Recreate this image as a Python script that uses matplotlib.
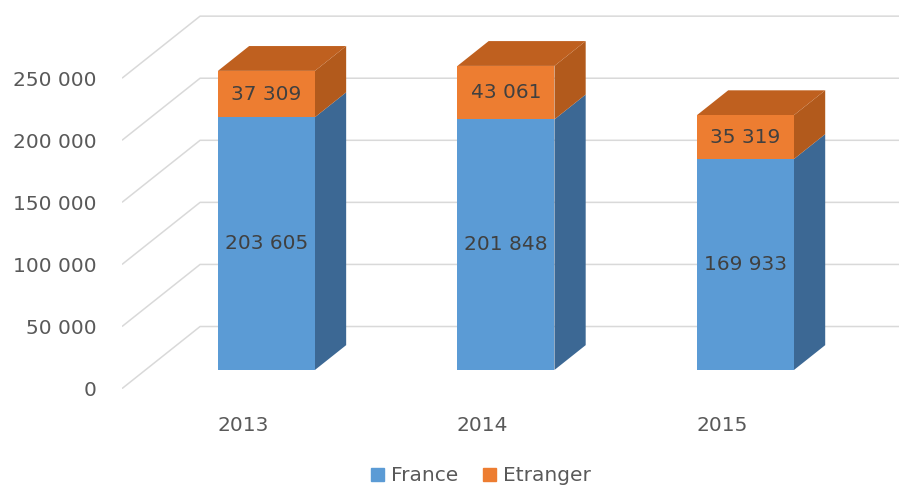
import matplotlib.pyplot as plt
from matplotlib.patches import Patch

years = ["2013", "2014", "2015"]
france = [203605, 201848, 169933]
etranger = [37309, 43061, 35319]
y_ticks = [0, 50000, 100000, 150000, 200000, 250000]

FR_FRONT, FR_SIDE = "#5B9BD5", "#3C6894"
ET_FRONT, ET_SIDE, ET_TOP = "#ED7D31", "#B25A1C", "#BF601F"
GRID = "#D9D9D9"

# fake 3D: the floor goes back by DX (category units) and DY (value units),
# bars sit between FRONT and BACK of that depth
DX, DY = 0.326, 50000
FRONT, BACK = 0.3, 0.7
BAR_W = 0.405
XMIN, XMAX = -0.603, 2.641


def fmt(v):
    return f"{v:,}".replace(",", " ")


fig = plt.figure(figsize=(8.99, 4.88), dpi=100)
ax = fig.add_axes([0.1357, 0.2037, 0.8643, 0.7963])
ax.set_xlim(XMIN, XMAX)
ax.set_ylim(-FRONT * DY, 298000)

# floor lines + back wall
for v in y_ticks:
    ax.plot([XMIN, XMIN + DX, XMAX],
            [v - FRONT * DY, v + BACK * DY, v + BACK * DY],
            color=GRID, lw=1.1, zorder=1, solid_capstyle="butt")

x = list(range(len(years)))
bdx = (BACK - FRONT) * DX
bdy = (BACK - FRONT) * DY
for i, f, e in zip(x, france, etranger):
    t = f + e
    xl, xr = i - BAR_W / 2, i + BAR_W / 2
    ax.fill([xr, xr + bdx, xr + bdx, xr], [0, bdy, f + bdy, f],
            color=FR_SIDE, lw=0, zorder=2)
    ax.fill([xr, xr + bdx, xr + bdx, xr], [f, f + bdy, t + bdy, t],
            color=ET_SIDE, lw=0, zorder=2)
    ax.fill([xl, xl + bdx, xr + bdx, xr], [t, t + bdy, t + bdy, t],
            color=ET_TOP, lw=0, zorder=2)

ax.bar(x, france, BAR_W, color=FR_FRONT, zorder=3)
ax.bar(x, etranger, BAR_W, bottom=france, color=ET_FRONT, zorder=3)

for i, f, e in zip(x, france, etranger):
    ax.text(i, f / 2, fmt(f), ha="center", va="center",
            fontsize=14.5, color="#404040", zorder=4)
    ax.text(i, f + e / 2, fmt(e), ha="center", va="center",
            fontsize=14.5, color="#404040", zorder=4)

ax.set_yticks([v - FRONT * DY for v in y_ticks], [fmt(v) for v in y_ticks])
ax.set_xticks([i - FRONT * DX for i in x], years)
ax.tick_params(axis="y", length=0, pad=18, labelsize=14.5, labelcolor="#595959")
ax.tick_params(axis="x", length=0, pad=20, labelsize=14.5, labelcolor="#595959")
for s in ax.spines.values():
    s.set_visible(False)

handles = [Patch(color=FR_FRONT, label="France"),
           Patch(color=ET_FRONT, label="Etranger")]
fig.legend(handles=handles, loc="center", bbox_to_anchor=(0.535, 0.025),
           ncol=2, frameon=False, fontsize=14.5, labelcolor="#595959",
           handlelength=0.65, handleheight=0.65, handletextpad=0.35,
           columnspacing=1.2)

fig.savefig("out.png", dpi=100)
